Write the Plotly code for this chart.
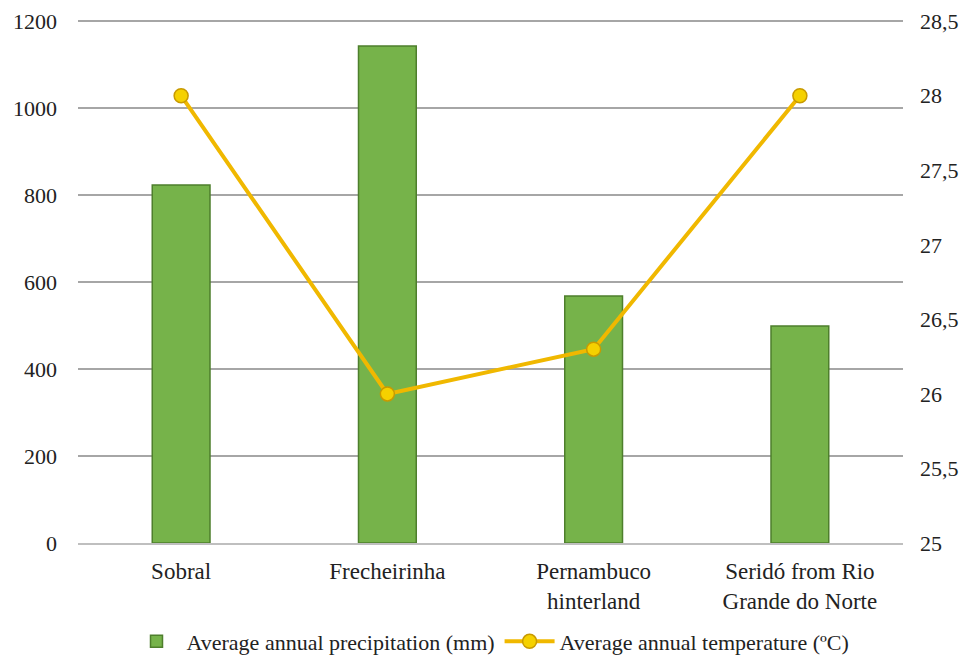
import plotly.graph_objects as go

categories = ["Sobral", "Frecheirinha", "Pernambuco<br>hinterland", "Seridó from Rio<br>Grande do Norte"]
precip = [823, 1143, 568, 499]
temp = [28, 26, 26.3, 28]
left_ticks = [0, 200, 400, 600, 800, 1000, 1200]
right_ticks = [25, 25.5, 26, 26.5, 27, 27.5, 28, 28.5]
right_labels = ["25", "25,5", "26", "26,5", "27", "27,5", "28", "28,5"]

FAM = "'Liberation Serif', 'Times New Roman', 'DejaVu Serif', serif"
font = dict(family=FAM, size=22, color="#222222")

fig = go.Figure()
fig.add_trace(go.Bar(
    x=categories, y=precip, name="Average annual precipitation (mm)",
    marker=dict(color="#76B34A", line=dict(color="#4E7F2C", width=1.5)),
    width=0.28, yaxis="y",
))
fig.add_trace(go.Scatter(
    x=categories, y=temp, name="Average annual temperature (ºC)",
    mode="lines+markers",
    line=dict(color="#F0B800", width=4),
    marker=dict(size=14, color="#F5D100", line=dict(color="#C89A00", width=1.5)),
    yaxis="y2",
))

fig.update_layout(
    width=968, height=663,
    margin=dict(l=78, r=65, t=19, b=120, autoexpand=False),
    paper_bgcolor="white", plot_bgcolor="white",
    font=font,
    showlegend=True,
    legend=dict(orientation="h", x=0.5, xanchor="center", y=-0.148, yanchor="top",
                font=dict(family=FAM, size=22, color="#222222"),
                tracegroupgap=0, itemwidth=50),
    xaxis=dict(showgrid=False, showline=True, linecolor="#BFBFBF", linewidth=2,
               ticks="", tickfont=dict(family=FAM, size=23, color="#222222"),
               ticklabelstandoff=6, automargin=False),
    yaxis=dict(range=[0, 1205], tickvals=left_ticks, showgrid=True,
               gridcolor="#A6A6A6", gridwidth=2, zeroline=False, showline=False,
               ticks="", ticklabelstandoff=20, tickfont=font, automargin=False),
    yaxis2=dict(range=[25, 25 + 3.5 * 1205 / 1200], tickvals=right_ticks, ticktext=right_labels,
                overlaying="y", side="right", showgrid=False, zeroline=False,
                showline=False, ticks="", ticklabelstandoff=16, tickfont=font, automargin=False),
    bargap=0.72,
)

fig.write_html("out.html")
